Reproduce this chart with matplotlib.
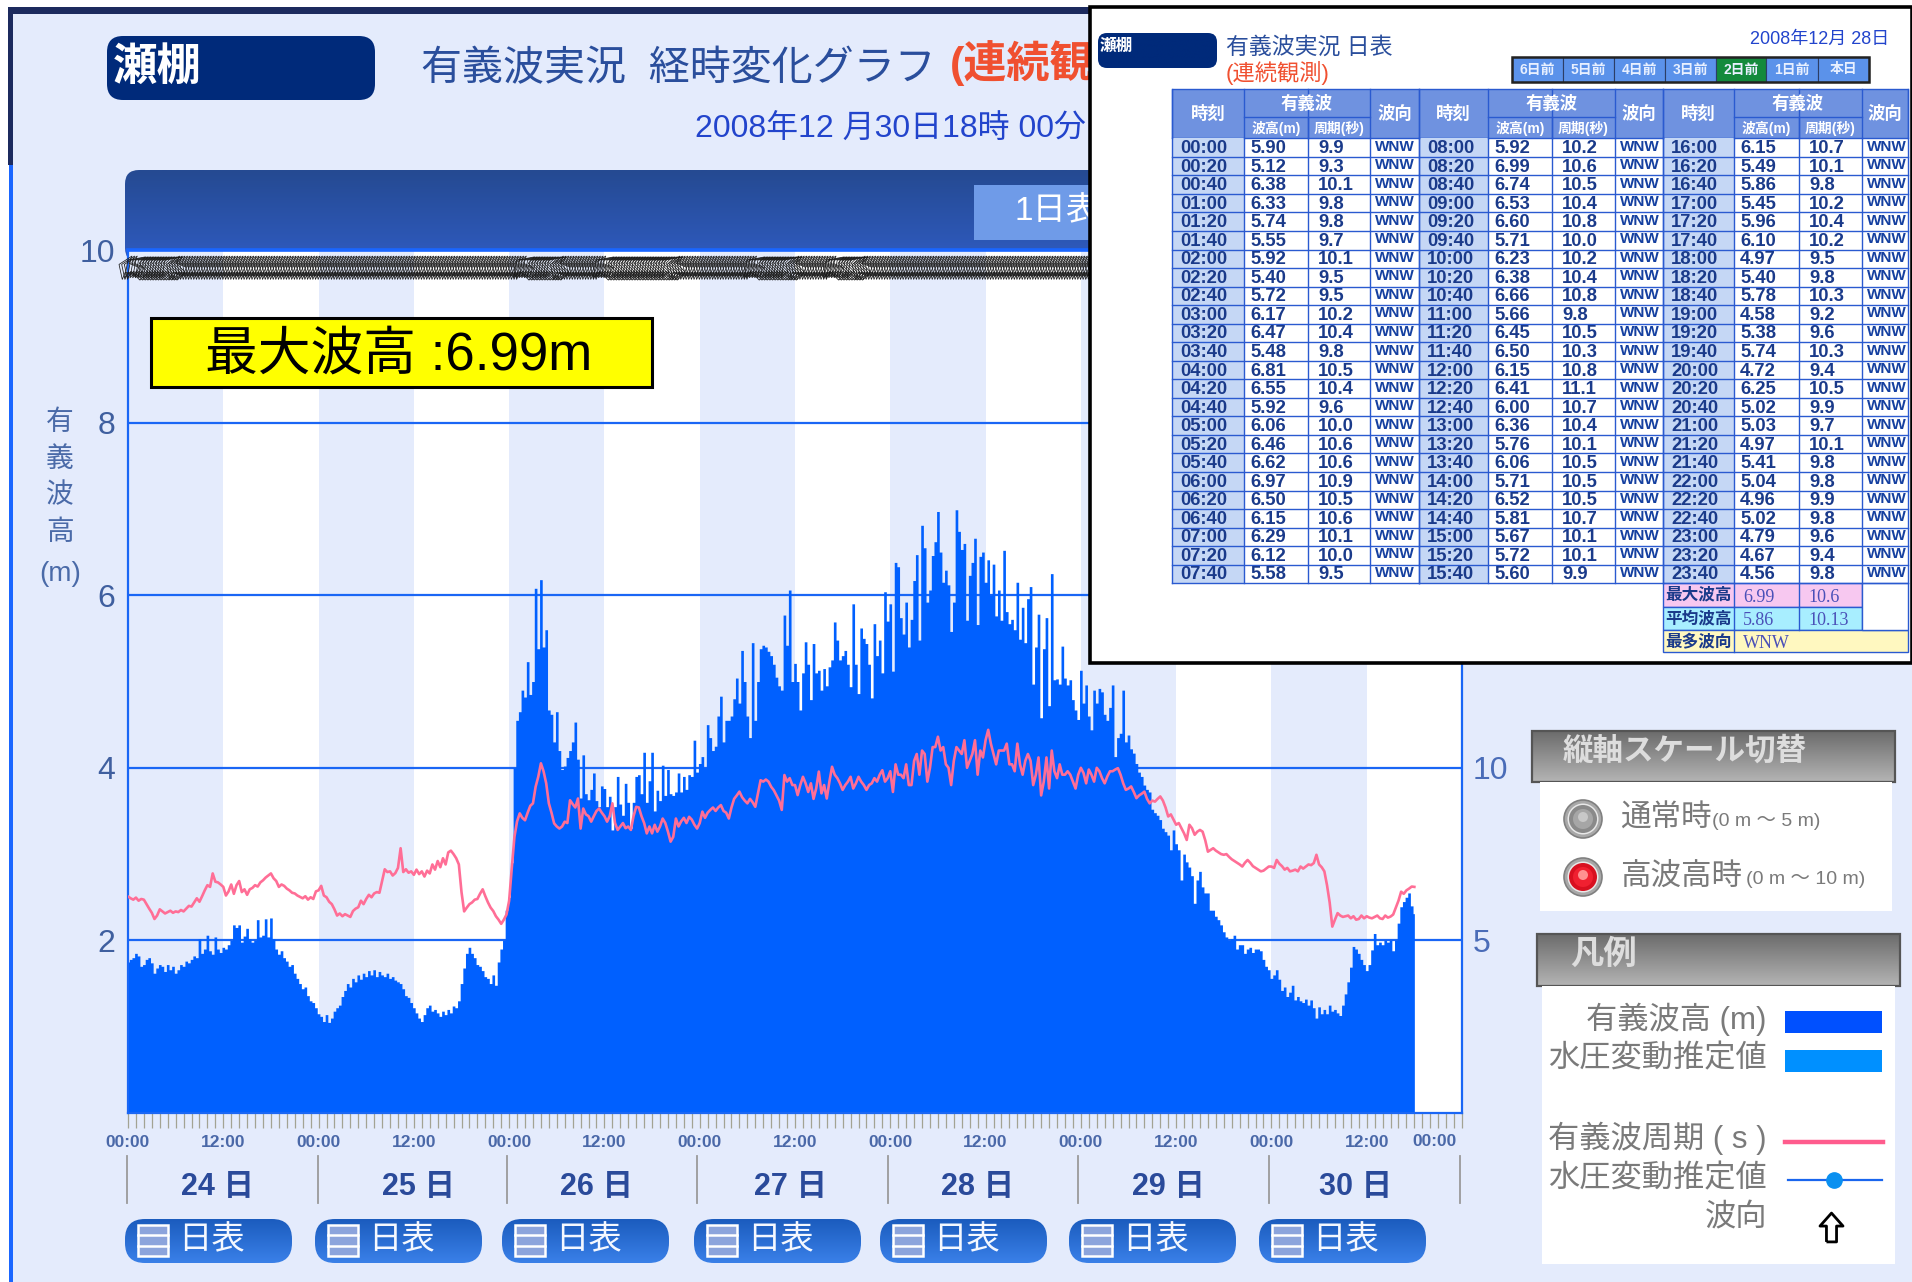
## Setana wave observation page with the daily table pasted over it
import numpy as np
import matplotlib
matplotlib.use("Agg")
import matplotlib.pyplot as plt
from matplotlib.patches import Rectangle, FancyBboxPatch, Circle
from matplotlib.path import Path
from matplotlib.transforms import Affine2D

plt.rcParams['font.family'] = ['Liberation Sans', 'Noto Sans CJK JP', 'DejaVu Sans']

## Significant wave height (m), every 20 minutes, one list per day
wave_24 = [1.75,1.78,1.80,1.85,1.82,1.70,1.72,1.78,1.80,1.74,1.62,1.68,
           1.72,1.70,1.64,1.72,1.66,1.70,1.62,1.66,1.72,1.70,1.76,1.74,
           1.78,1.82,1.80,2.02,1.85,1.90,2.06,1.88,1.84,2.04,1.90,1.86,
           1.92,1.90,1.95,2.00,2.18,2.15,2.18,1.98,2.05,2.14,2.02,1.98,
           2.00,2.24,2.04,2.06,2.25,2.04,2.26,2.02,1.90,1.84,1.88,1.80,
           1.76,1.70,1.72,1.62,1.56,1.50,1.44,1.46,1.36,1.30,1.28,1.22]
wave_25 = [1.15,1.12,1.06,1.14,1.05,1.10,1.18,1.22,1.25,1.35,1.42,1.50,
           1.46,1.56,1.52,1.60,1.55,1.62,1.58,1.65,1.60,1.66,1.58,1.64,
           1.60,1.58,1.62,1.56,1.58,1.54,1.52,1.50,1.44,1.36,1.34,1.28,
           1.22,1.16,1.10,1.06,1.14,1.22,1.25,1.18,1.20,1.16,1.12,1.18,
           1.14,1.20,1.16,1.24,1.22,1.30,1.50,1.68,1.85,1.92,1.85,1.80,
           1.72,1.70,1.65,1.58,1.56,1.50,1.60,1.48,1.75,1.90,2.00,2.35]
wave_26 = [2.50,2.90,4.00,4.55,4.65,4.90,4.82,5.23,4.85,5.00,6.08,5.38,
           6.18,5.40,5.60,4.67,4.62,4.30,4.65,4.20,3.98,4.02,4.12,4.20,
           4.30,4.53,4.10,3.65,4.15,3.70,3.63,3.75,3.94,3.62,3.55,3.79,
           3.76,3.55,3.67,3.28,3.55,3.90,3.58,3.45,3.82,3.60,3.30,3.60,
           3.90,3.92,3.70,4.18,3.60,3.85,4.18,3.50,3.74,3.62,4.03,3.68,
           3.98,3.70,3.68,3.72,3.94,3.72,3.90,3.75,3.92,3.90,4.32,3.95]
wave_27 = [4.05,4.13,4.00,4.50,4.35,4.20,4.25,4.60,4.83,4.30,4.55,4.55,
           4.60,4.80,5.04,4.75,5.36,5.00,4.60,4.35,5.45,4.55,5.00,5.38,
           5.42,5.40,5.35,5.30,5.20,5.05,4.95,4.90,5.77,5.42,6.06,5.00,
           5.21,5.00,4.67,5.10,5.46,5.20,4.79,5.44,5.10,5.13,4.90,5.15,
           4.95,5.17,5.25,5.69,5.48,5.25,5.30,5.36,5.20,4.94,5.90,5.20,
           4.86,5.62,5.50,5.44,5.20,4.81,5.67,5.30,5.48,5.10,6.04,5.70]
wave_28 = [5.90,5.12,6.38,6.33,5.74,5.55,5.92,5.40,5.72,6.17,6.47,5.48,
           6.81,6.55,5.92,6.06,6.46,6.62,6.97,6.50,6.15,6.29,6.12,5.58,
           5.92,6.99,6.74,6.53,6.60,5.71,6.23,6.38,6.66,5.66,6.45,6.50,
           6.15,6.41,6.00,6.36,5.76,6.06,5.71,6.52,5.81,5.67,5.72,5.60,
           6.15,5.49,5.86,5.45,5.96,6.10,4.97,5.40,5.78,4.58,5.38,5.74,
           4.72,6.25,5.02,5.03,4.97,5.41,5.04,4.96,5.02,4.79,4.67,4.56]
wave_29 = [5.13,4.75,4.96,4.60,4.44,4.90,4.75,4.92,4.88,4.62,4.55,4.70,
           4.96,4.13,4.35,4.40,4.90,4.30,4.38,4.22,4.17,4.05,3.95,3.90,
           3.80,3.75,3.72,3.52,3.48,3.45,3.40,3.30,3.26,3.22,3.05,3.28,
           3.12,3.05,2.70,3.00,2.91,2.85,2.75,2.43,2.70,2.80,2.62,2.55,
           2.55,2.35,2.35,2.28,2.24,2.18,2.10,2.04,2.00,2.02,2.06,1.90,
           1.95,1.95,1.85,1.90,1.92,1.86,1.90,1.90,1.88,1.78,1.70,1.66]
wave_30 = [1.56,1.60,1.66,1.55,1.42,1.46,1.35,1.40,1.48,1.31,1.35,1.30,
           1.28,1.32,1.25,1.31,1.22,1.10,1.23,1.15,1.20,1.15,1.25,1.18,
           1.20,1.16,1.13,1.25,1.38,1.52,1.69,1.93,1.90,1.85,1.78,1.72,
           1.65,1.72,1.89,2.08,1.95,1.98,1.95,2.00,1.98,2.00,1.88,2.00,
           2.20,2.39,2.45,2.50,2.55,2.40,2.31]

## Wave period (s), same sampling
period_24 = [6.27,6.22,6.18,6.24,6.15,6.20,6.18,6.05,5.92,5.80,5.62,5.72,
             5.90,5.84,5.78,5.82,5.86,5.80,5.84,5.82,5.88,5.84,5.92,6.00,
             5.98,6.10,6.22,6.12,6.28,6.45,6.60,6.55,6.94,6.70,6.68,6.62,
             6.55,6.30,6.42,6.62,6.35,6.60,6.72,6.40,6.48,6.32,6.48,6.52,
             6.60,6.56,6.68,6.74,6.82,6.88,6.94,6.80,6.72,6.55,6.62,6.58,
             6.50,6.45,6.38,6.36,6.30,6.26,6.22,6.28,6.18,6.25,6.20,6.42]
period_25 = [6.45,6.58,6.30,6.25,6.12,6.05,5.90,5.72,5.78,5.70,5.76,5.72,
             5.68,5.85,5.92,5.96,6.15,6.05,6.20,6.32,6.25,6.36,6.40,6.38,
             6.72,7.06,6.98,7.00,6.88,6.95,7.10,7.67,6.98,7.06,6.96,7.00,
             6.90,7.05,6.92,7.00,6.85,7.02,6.94,7.20,7.05,7.30,7.12,7.38,
             7.20,7.55,7.60,7.50,7.38,7.20,6.40,5.84,5.95,6.05,6.10,6.18,
             6.20,6.35,6.48,6.28,6.10,5.95,5.85,5.70,5.60,5.48,5.60,5.75]
period_26 = [6.15,7.10,8.00,8.45,8.68,8.55,8.48,8.70,8.90,8.97,9.45,9.74,
             10.13,9.90,9.55,8.97,8.70,8.39,8.30,8.24,8.30,8.44,8.40,9.06,
             8.95,8.85,9.11,8.24,8.82,8.65,8.60,8.44,8.60,8.75,8.82,8.70,
             8.60,8.44,8.60,8.97,8.40,8.20,8.30,8.40,8.25,8.30,8.20,8.60,
             8.87,8.85,8.60,8.40,8.10,8.30,8.10,8.35,8.15,8.30,8.53,8.40,
             8.15,7.86,8.00,8.53,8.30,8.45,8.55,8.40,8.58,8.50,8.35,8.24]
period_27 = [8.40,8.73,8.55,8.70,8.78,8.85,8.75,8.85,8.92,8.75,8.70,8.53,
             8.85,9.10,9.20,9.31,9.15,9.05,8.97,9.10,9.00,8.87,9.25,9.64,
             9.60,9.66,9.60,9.45,9.35,9.20,9.05,8.78,9.79,9.60,9.70,9.50,
             9.50,9.21,9.50,9.74,9.55,9.30,9.55,9.10,9.40,9.89,9.26,9.50,
             9.11,9.60,10.03,9.80,9.70,9.55,9.36,9.50,9.60,9.74,9.40,9.55,
             9.74,9.60,9.50,9.36,9.50,9.55,9.70,9.60,9.80,9.93,9.60,9.70]
period_28 = [9.9,9.3,10.1,9.8,9.8,9.7,10.1,9.5,9.5,10.2,10.4,9.8,
             10.5,10.4,9.6,10.0,10.6,10.6,10.9,10.5,10.6,10.1,10.0,9.5,
             10.2,10.6,10.5,10.4,10.8,10.0,10.2,10.4,10.8,9.8,10.5,10.3,
             10.8,11.1,10.7,10.4,10.1,10.5,10.5,10.5,10.7,10.1,10.1,9.9,
             10.7,10.1,9.8,10.2,10.4,10.2,9.5,9.8,10.3,9.2,9.6,10.3,
             9.4,10.5,9.9,9.7,10.1,9.8,9.8,9.9,9.8,9.6,9.4,9.8]
period_29 = [10.00,9.85,9.55,9.95,9.80,9.60,10.00,9.90,9.70,9.55,9.75,9.90,
             9.90,9.95,9.99,9.80,9.55,9.36,9.40,9.46,9.30,9.12,9.20,9.25,
             9.31,9.10,8.97,9.05,9.02,9.10,9.17,9.05,8.85,8.59,8.65,8.50,
             8.35,8.40,8.25,8.10,7.91,8.35,8.25,8.06,8.15,8.20,8.15,7.90,
             7.57,7.62,7.67,7.60,7.55,7.50,7.48,7.50,7.42,7.35,7.30,7.25,
             7.20,7.14,7.25,7.33,7.25,7.15,7.10,7.05,7.00,7.02,7.08,7.14]
period_30 = [7.14,7.10,7.33,7.22,7.15,7.05,7.10,7.00,7.02,7.05,7.00,7.14,
             7.08,7.14,7.20,7.18,7.24,7.48,7.20,7.12,7.00,6.60,6.10,5.40,
             5.60,5.79,5.72,5.68,5.70,5.72,5.64,5.70,5.60,5.62,5.72,5.64,
             5.70,5.66,5.64,5.68,5.72,5.64,5.62,5.72,5.66,5.69,5.75,5.95,
             6.15,6.41,6.35,6.45,6.50,6.56,6.55]

## Wave direction is WNW except in these spans of hours
nw_spans = [(1, 6), (50, 54.5), (60, 69), (79, 84), (89, 92.5)]

## Tick labels and day names
hour_labels = ['00:00', '12:00'] * 7
day_labels = ['24 日', '25 日', '26 日', '27 日', '28 日', '29 日', '30 日']
left_ticks = [2, 4, 6, 8, 10]
right_ticks = [5, 10]
ylabel_chars = ['有', '義', '波', '高', '(m)']

## Daily table
table_times = [f'{h:02d}:{m:02d}' for h in range(24) for m in (0, 20, 40)]
nav_labels = ['6日前', '5日前', '4日前', '3日前', '2日前', '1日前', '本日']
summary_labels = ['最大波高', '平均波高', '最多波向']
summary_height = ['6.99', '5.86', 'WNW']
summary_period = ['10.6', '10.13', '']

## Legend
legend_labels = ['有義波高 (m)', '水圧変動推定値', '有義波周期 ( s )', '水圧変動推定値', '波向']

## Colours
PAGE = '#E4EBFC'
FILL = '#0060FF'
LINE = '#1A66F5'
PINK = '#FF6E96'
NAVY = '#002A7A'
TITLE = '#2A4E9C'
RED = '#F05030'
DATE = '#2244CC'
TICK = '#3F5F9F'
GREY = '#7A7A7A'

wave = wave_24 + wave_25 + wave_26 + wave_27 + wave_28 + wave_29 + wave_30
period = period_24 + period_25 + period_26 + period_27 + period_28 + period_29 + period_30
hours = np.arange(len(wave)) / 3

fig = plt.figure(figsize=(19.12, 12.82), dpi=100, facecolor='white')


def pixel_axes(z):
    a = fig.add_axes([0, 0, 1, 1], zorder=z)
    a.set_xlim(0, 1912)
    a.set_ylim(1282, 0)
    a.axis('off')
    a.patch.set_alpha(0)
    a.autoscale(False)
    return a


def box(a, x0, y0, x1, y1, **kw):
    a.add_patch(Rectangle((x0, y0), x1 - x0, y1 - y0, **kw))


def round_box(a, x0, y0, x1, y1, r, top, bottom):
    ## rounded rectangle with a vertical gradient
    patch = FancyBboxPatch((x0 + r, y0 + r), x1 - x0 - 2 * r, y1 - y0 - 2 * r,
                           boxstyle=f'round,pad={r},rounding_size={r}',
                           fc='none', ec='none')
    a.add_patch(patch)
    cmap = matplotlib.colors.LinearSegmentedColormap.from_list('g', [top, bottom])
    im = a.imshow(np.linspace(0, 1, 64).reshape(-1, 1), extent=(x0, x1, y1, y0),
                  cmap=cmap, aspect='auto', origin='upper', zorder=1)
    im.set_clip_path(patch)


def radio(a, x, y, outer, inner, light):
    a.add_patch(Circle((x, y), 19, fc='#A8A8A8', ec='#808080', lw=1.2))
    a.add_patch(Circle((x, y), 15.5, fc='#E8E8E8', ec='none'))
    a.add_patch(Circle((x, y), 14, fc=outer, ec='none'))
    a.add_patch(Circle((x, y), 10, fc=inner, ec='none'))
    a.add_patch(Circle((x, y - 2), 5, fc=light, ec='none'))


## Back layer: page, title, frame
back = pixel_axes(0)
box(back, 13, 14, 1912, 1282, fc=PAGE, ec='none')
box(back, 8, 7, 1912, 14, fc='#1C2A5E', ec='none')
box(back, 8, 7, 13, 165, fc='#1C2A5E', ec='none')
box(back, 9, 165, 13, 1282, fc='#1A66FF', ec='none')
round_box(back, 107, 36, 375, 100, 16, NAVY, NAVY)
back.text(113, 68, '瀬棚', color='white', fontsize=32, fontweight='bold', va='center')
back.text(421, 69, '有義波実況  経時変化グラフ', color=TITLE, fontsize=29.5, va='center')
## the rest of this title is hidden by the table in the reference
back.text(950, 63, '(連続観', color=RED, fontsize=31, va='center', fontweight='bold')
back.text(695, 130, '2008年12 月30日18時 00分', color=DATE, fontsize=23, va='center')
round_box(back, 125, 170, 1480, 262, 14, '#254A92', '#2F5BC0')
box(back, 974, 185, 1120, 240, fc='#6F9BE8', ec='none')
back.text(1015, 212, '1日表', color='white', fontsize=24, va='center')

## Main chart
ax = fig.add_axes([128 / 1912, 1 - 1113 / 1282, (1462 - 128) / 1912, (1113 - 250) / 1282], zorder=1)
ax.set_xlim(0, 168)
ax.set_ylim(0, 10)
ax.set_facecolor('white')
for d in range(7):
    ax.axvspan(24 * d, 24 * d + 12, fc=PAGE, ec='none', zorder=0)
ax.set_axisbelow(True)
ax.yaxis.grid(True, color=LINE, lw=1.6)
ax.fill_between(hours, wave, step='mid', color=FILL, lw=0, zorder=2)

ax.set_yticks(left_ticks)
ax.set_yticklabels(left_ticks, fontsize=23, color=TICK)
ax.tick_params(axis='y', length=0, pad=9)
ax.set_xticks(range(0, 168, 12))
ax.set_xticklabels(hour_labels, fontsize=12.5, fontweight='bold', color='#4A68A8')
ax.set_xticks(range(0, 169), minor=True)
ax.tick_params(axis='x', which='both', length=11, width=0.9, color='#A3A393', pad=4.5)
for side in ('left', 'right', 'bottom'):
    ax.spines[side].set_color(LINE)
    ax.spines[side].set_linewidth(1.6)
ax.spines['top'].set_color('#1A66FF')
ax.spines['top'].set_linewidth(2.6)

## Direction arrows along the top of the chart
arrow = Path([(-0.35, -1), (0.35, -1), (0.35, 0.1), (0.8, 0.1), (0, 1), (-0.8, 0.1), (-0.35, 0.1), (-0.35, -1)])
band_arrow = Path([(-0.5, -1), (0.5, -1), (0.5, 0.1), (1.3, 0.1), (0, 1), (-1.3, 0.1), (-0.5, 0.1), (-0.5, -1)])
wave_dir = ['WNW'] * len(wave)
for start, stop in nw_spans:
    for i in range(int(start * 3), int(stop * 3)):
        wave_dir[i] = 'NW'
for name, angle in (('NW', 315), ('WNW', 292.5)):
    pick = [i for i in range(len(wave)) if wave_dir[i] == name]
    ax.scatter(hours[pick], [9.79] * len(pick), s=300,
               marker=band_arrow.transformed(Affine2D().rotate_deg(-angle)),
               fc='none', ec='#1A1A1A', lw=0.55, zorder=4, clip_on=False)

## Period on the right hand scale
ax2 = ax.twinx()
ax2.set_ylim(0, 25)
ax2.set_zorder(2)
ax2.patch.set_alpha(0)
ax2.plot(hours, period, color=PINK, lw=1.9, zorder=3)
ax2.set_yticks(right_ticks)
ax2.set_yticklabels(right_ticks, fontsize=23, color='#4A6CB8')
ax2.tick_params(axis='y', length=0, pad=8)
for side in ax2.spines:
    ax2.spines[side].set_visible(False)

## Front layer: labels under the axis, buttons, side panels, daily table
front = pixel_axes(5)

ylabel_y = [423, 460, 496, 533, 574]
for ch, y in zip(ylabel_chars, ylabel_y):
    front.text(60, y, ch, color='#4A6AA8', fontsize=20, ha='center', va='center')

box(front, 151, 318, 652, 387, fc='#FFFF00', ec='black', lw=2.2)
front.text(205, 356, '最大波高 :6.99m', color='black', fontsize=38, va='center')

front.text(1435, 1142, '00:00', color='#4A68A8', fontsize=12.5, fontweight='bold',
           ha='center', va='center')

day_line_x = [127, 318, 507, 697, 888, 1078, 1269, 1460]
for x in day_line_x:
    front.plot([x, x], [1156, 1203], color='#9A9A9A', lw=1.3)
day_label_x = [217, 418, 596, 790, 978, 1168, 1356]
for label, x in zip(day_labels, day_label_x):
    front.text(x, 1187, label, color='#2A4A9A', fontsize=22, fontweight='bold', ha='center', va='center')

button_x = [125, 315, 502, 694, 880, 1069, 1259]
for x in button_x:
    round_box(front, x, 1219, x + 167, 1263, 20, '#1B5CBE', '#3A80E8')
    box(front, x + 13, 1225, x + 43, 1256, fc='#8CA4DC', ec='white', lw=1.8)
    front.plot([x + 13, x + 43], [1235, 1235], color='white', lw=1.8)
    front.plot([x + 13, x + 43], [1246, 1246], color='white', lw=1.8)
    front.text(x + 53, 1241, '日表', color='#F4F8FF', fontsize=24, va='center')

## Scale switch panel
round_box(front, 1532, 731, 1895, 782, 1, '#6C6C6C', '#B4B4B4')
box(front, 1532, 731, 1895, 782, fc='none', ec='#555555', lw=1.6)
front.text(1563, 752, '縦軸スケール切替', color='#DDDDDD', fontsize=22, va='center', fontweight='bold')
box(front, 1540, 782, 1892, 911, fc='white', ec='none')
radio(front, 1583, 819, '#8A8A8A', '#A6A6A6', '#C8C8C8')
radio(front, 1583, 877, '#D81020', '#F02030', '#FF9090')
front.text(1620, 819, '通常時', color=GREY, fontsize=22, va='center')
front.text(1712, 821, '(0 m ～ 5 m)', color=GREY, fontsize=14, va='center')
front.text(1620, 877, '高波高時', color=GREY, fontsize=22, va='center')
front.text(1746, 879, '(0 m ～ 10 m)', color=GREY, fontsize=14, va='center')

## Legend panel
round_box(front, 1537, 934, 1900, 986, 1, '#6C6C6C', '#B4B4B4')
box(front, 1537, 934, 1900, 986, fc='none', ec='#555555', lw=1.6)
front.text(1570, 955, '凡例', color='#DDDDDD', fontsize=24, va='center', fontweight='bold')
box(front, 1542, 986, 1895, 1264, fc='white', ec='none')
legend_y = [1019, 1059, 1138, 1179, 1218]
for label, y in zip(legend_labels, legend_y):
    front.text(1767, y, label, color=GREY, fontsize=22.5, ha='right', va='center')
box(front, 1785, 1011, 1882, 1033, fc='#0050FF', ec='none')
box(front, 1785, 1050, 1882, 1072, fc='#0090FF', ec='none')
front.plot([1785, 1883], [1142, 1142], color='#FF5C8D', lw=3.2)
front.plot([1788, 1882], [1180, 1180], color='#1A66EE', lw=1.6)
front.plot([1834], [1180], 'o', color='#0A90F0', ms=11)
front.scatter([1831], [1227], s=430, marker=arrow, fc='white', ec='black', lw=2.0)

## Daily table inset
inset = pixel_axes(6)
box(inset, 1090, 7, 1912, 663, fc='white', ec='black', lw=2.6)
round_box(inset, 1098, 33, 1217, 68, 9, NAVY, NAVY)
inset.text(1100, 46, '瀬棚', color='white', fontsize=12, fontweight='bold', va='center')
inset.text(1226, 47, '有義波実況 日表', color=TITLE, fontsize=16.5, va='center')
inset.text(1226, 73, '(連続観測)', color=RED, fontsize=16, va='center')
inset.text(1750, 39, '2008年12月 28日', color=DATE, fontsize=13, va='center')

nav_edges = [1512, 1563, 1614, 1665, 1716, 1766, 1818, 1869]
for i, label in enumerate(nav_labels):
    fc = '#138A3C' if label == '2日前' else '#5B92EA'
    box(inset, nav_edges[i], 57, nav_edges[i + 1], 82, fc=fc, ec='#2C3E66', lw=0.8)
    inset.text((nav_edges[i] + nav_edges[i + 1]) / 2, 69.5, label, color='#E8F0FF',
               fontsize=10, fontweight='bold', ha='center', va='center')
box(inset, 1512, 57, 1869, 82, fc='none', ec='#222222', lw=1.8)

HEAD = '#6F92E0'
GRID = '#2A5AD0'
col_edges = [1172, 1244, 1308, 1370, 1419, 1488, 1552, 1615, 1663, 1734, 1799, 1862, 1908]
row_top = 138.3
row_h = 18.54
box(inset, col_edges[0], 89, col_edges[-1], row_top, fc=HEAD, ec=GRID, lw=1)
for g in range(3):
    x = col_edges[g * 4:g * 4 + 5]
    for e in x:
        inset.plot([e, e], [89, row_top], color=GRID, lw=1)
    inset.plot([x[1], x[3]], [117, 117], color=GRID, lw=1)
    inset.plot([x[2], x[2]], [117, row_top], color=GRID, lw=1)
    head = dict(color='white', fontweight='bold', ha='center', va='center')
    inset.text((x[0] + x[1]) / 2, 113, '時刻', fontsize=12.5, **head)
    inset.text((x[1] + x[3]) / 2, 103, '有義波', fontsize=12.5, **head)
    inset.text((x[3] + x[4]) / 2, 113, '波向', fontsize=12.5, **head)
    inset.text((x[1] + x[2]) / 2, 128, '波高(m)', fontsize=10, **head)
    inset.text((x[2] + x[3]) / 2, 128, '周期(秒)', fontsize=10, **head)
    box(inset, x[0], row_top, x[1], row_top + 24 * row_h, fc='#C5D7F5', ec='none')
    for r in range(24):
        k = g * 24 + r
        y = row_top + r * row_h
        cy = y + row_h / 2 + 1
        inset.plot([x[0], x[4]], [y + row_h, y + row_h], color=GRID, lw=1)
        cell = dict(color='#1A3A8A', fontsize=13.3, fontweight='bold', va='center')
        inset.text(x[0] + 8, cy, table_times[k], **cell)
        inset.text(x[1] + 6, cy, f'{wave_28[k]:.2f}', **cell)
        inset.text(x[2] + 10, cy, f'{period_28[k]:.1f}', **cell)
        inset.text(x[3] + 5, cy - 2, 'WNW', color='#1540A0', fontsize=11, fontweight='bold', va='center')
    for e in x:
        inset.plot([e, e], [row_top, row_top + 24 * row_h], color=GRID, lw=1)

## Summary rows under the last column group
sum_edges = [583.3, 607, 630, 652]
sum_colours = ['#F7C8F0', '#A8EEFF', '#FFF8C0']
for i in range(3):
    y0, y1 = sum_edges[i], sum_edges[i + 1]
    right = 1862 if i < 2 else 1908
    box(inset, 1663, y0, right, y1, fc=sum_colours[i], ec=GRID, lw=1)
    inset.plot([1734, 1734], [y0, y1], color=GRID, lw=1)
    if i < 2:
        inset.plot([1799, 1799], [y0, y1], color=GRID, lw=1)
    inset.text(1698.5, (y0 + y1) / 2, summary_labels[i], color='#1A3A8A', fontsize=12,
               fontweight='bold', ha='center', va='center')
    inset.text(1743, (y0 + y1) / 2 + 2, summary_height[i], color='#4A50B8', fontsize=13,
               family=['Liberation Serif'], va='center')
    inset.text(1808, (y0 + y1) / 2 + 2, summary_period[i], color='#4A50B8', fontsize=13,
               family=['Liberation Serif'], va='center')
box(inset, 1862, 583.3, 1908, 630, fc='white', ec=GRID, lw=1)

fig.savefig('out.png', dpi=100)
